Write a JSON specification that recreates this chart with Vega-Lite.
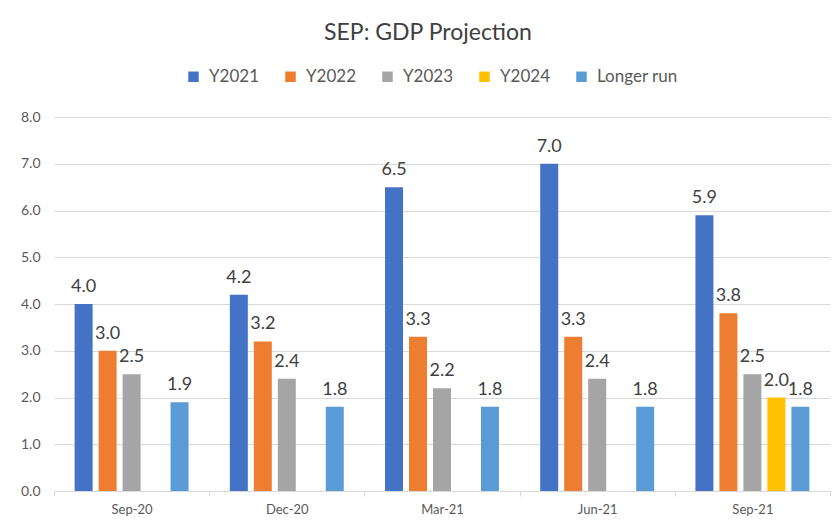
{
  "$schema": "https://vega.github.io/schema/vega-lite/v6.json",
  "width": 776,
  "height": 374,
  "autosize": {"type": "none"},
  "padding": {"left": 54, "top": 117, "right": 9, "bottom": 38},
  "background": "white",
  "title": {"text": "SEP: GDP Projection", "anchor": "middle", "dx": -14, "offset": 23, "font": "Lato", "fontSize": 23, "fontWeight": "normal", "color": "#404040"},
  "data": {"values": [
    {"period": "Sep-20", "series": "Y2021", "value": 4.0},
    {"period": "Sep-20", "series": "Y2022", "value": 3.0},
    {"period": "Sep-20", "series": "Y2023", "value": 2.5},
    {"period": "Sep-20", "series": "Longer run", "value": 1.9},
    {"period": "Dec-20", "series": "Y2021", "value": 4.2},
    {"period": "Dec-20", "series": "Y2022", "value": 3.2},
    {"period": "Dec-20", "series": "Y2023", "value": 2.4},
    {"period": "Dec-20", "series": "Longer run", "value": 1.8},
    {"period": "Mar-21", "series": "Y2021", "value": 6.5},
    {"period": "Mar-21", "series": "Y2022", "value": 3.3},
    {"period": "Mar-21", "series": "Y2023", "value": 2.2},
    {"period": "Mar-21", "series": "Longer run", "value": 1.8},
    {"period": "Jun-21", "series": "Y2021", "value": 7.0},
    {"period": "Jun-21", "series": "Y2022", "value": 3.3},
    {"period": "Jun-21", "series": "Y2023", "value": 2.4},
    {"period": "Jun-21", "series": "Longer run", "value": 1.8},
    {"period": "Sep-21", "series": "Y2021", "value": 5.9},
    {"period": "Sep-21", "series": "Y2022", "value": 3.8},
    {"period": "Sep-21", "series": "Y2023", "value": 2.5},
    {"period": "Sep-21", "series": "Y2024", "value": 2.0},
    {"period": "Sep-21", "series": "Longer run", "value": 1.8}
  ]},
  "encoding": {
    "x": {"field": "period", "type": "nominal", "sort": ["Sep-20", "Dec-20", "Mar-21", "Jun-21", "Sep-21"],
      "scale": {"paddingInner": 0, "paddingOuter": 0},
      "axis": {"title": null, "labelAngle": 0, "tickBand": "extent", "domainColor": "#D9D9D9", "tickColor": "#D9D9D9", "tickSize": 5, "labelPadding": 7, "labelFont": "Lato", "labelFontSize": 13, "labelColor": "#595959"}},
    "xOffset": {"field": "series", "type": "nominal", "sort": ["Y2021", "Y2022", "Y2023", "Y2024", "Longer run"],
      "scale": {"domain": ["Y2021", "Y2022", "Y2023", "Y2024", "Longer run"], "paddingInner": 0.25, "paddingOuter": 0.86}},
    "y": {"field": "value", "type": "quantitative",
      "scale": {"domain": [0, 8]},
      "axis": {"title": null, "values": [0, 1, 2, 3, 4, 5, 6, 7, 8], "format": ".1f", "ticks": false, "domain": false, "gridColor": "#D9D9D9", "labelPadding": 14, "labelFont": "Lato", "labelFontSize": 14, "labelColor": "#595959"}}
  },
  "layer": [
    {
      "mark": {"type": "bar"},
      "encoding": {
        "color": {"field": "series", "type": "nominal",
          "scale": {"domain": ["Y2021", "Y2022", "Y2023", "Y2024", "Longer run"], "range": ["#4472C4", "#ED7D31", "#A5A5A5", "#FFC000", "#5B9BD5"]},
          "legend": {"title": null, "orient": "none", "direction": "horizontal", "legendX": 131, "legendY": -49, "symbolType": "square", "symbolSize": 110, "symbolStrokeWidth": 0, "labelFont": "Lato", "labelFontSize": 17, "labelColor": "#595959", "labelOffset": 7, "columnPadding": 22}}
      }
    },
    {
      "mark": {"type": "text", "baseline": "bottom", "dy": -8, "font": "Lato", "fontSize": 18, "color": "#404040"},
      "encoding": {"text": {"field": "value", "type": "quantitative", "format": ".1f"}}
    }
  ],
  "config": {"view": {"stroke": null}}
}
